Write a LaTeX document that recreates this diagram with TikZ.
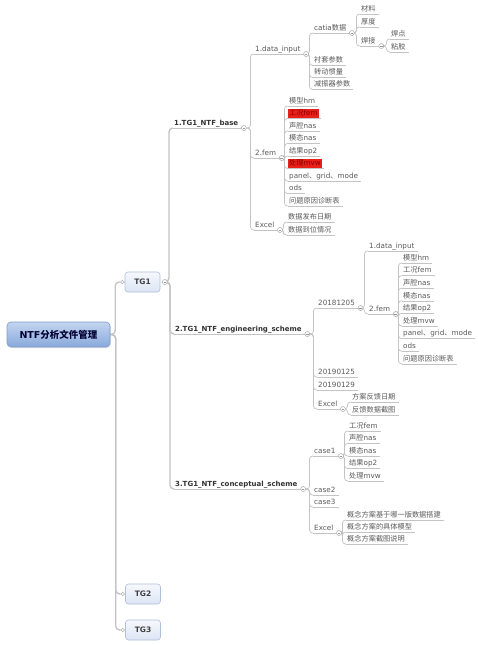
\documentclass[tikz,border=0pt]{standalone}
\usepackage{fontspec}
\setmainfont{DejaVu Sans}
\newfontfamily\zhfont{Noto Sans CJK SC}
\newcommand\zh[1]{{\zhfont #1}}
\usetikzlibrary{backgrounds,shadows}
\definecolor{lnc}{HTML}{C4C4C4}
\definecolor{txc}{HTML}{5A5A5A}
\definecolor{rootb}{HTML}{7E9CCB}
\definecolor{roott}{HTML}{C3D5F0}
\definecolor{rootbot}{HTML}{89A9DA}
\definecolor{tgb}{HTML}{AFC0DA}
\definecolor{tgt}{HTML}{F6F8FD}
\definecolor{tgbot}{HTML}{DCE5F4}
\definecolor{redf}{HTML}{E8201A}
\tikzset{
  txt/.style={font=\fontsize{7.2}{8}\selectfont, text=txc, inner xsep=1pt, inner ysep=1.2pt, anchor=south west, text height=5.2pt, text depth=1.4pt},
  ul/.style={draw=lnc, line width=0.6pt},
  leaf/.style={txt, append after command={(\tikzlastnode.south west) edge[ul] ([xshift=2pt]\tikzlastnode.south east)}},
  hot/.style={leaf, fill=redf, text=red!55!black},
  sub/.style={leaf, font=\bfseries\fontsize{7}{8}\selectfont, text=black!80},
  col/.style={circle, draw=gray!70, fill=white, minimum size=5pt, inner sep=0pt, line width=0.5pt,
    path picture={\draw[gray!80, line width=0.5pt] ([xshift=-1.3pt]path picture bounding box.center) -- ([xshift=1.3pt]path picture bounding box.center);}},
  dot/.style={circle, draw=gray!60, fill=white, minimum size=3.5pt, inner sep=0pt, line width=0.5pt},
  cn/.style={draw=lnc, line width=0.7pt, rounded corners=3pt},
  cnb/.style={draw=lnc, line width=1.4pt, rounded corners=4pt},
  root/.style={rounded corners=4pt, draw=rootb, line width=0.6pt, top color=roott, bottom color=rootbot,
    minimum width=103pt, minimum height=25pt, inner sep=2pt, font=\bfseries\fontsize{9.5}{11}\selectfont,
    text=black!80!blue, drop shadow={opacity=0.2,shadow xshift=1pt,shadow yshift=-1.2pt}},
  tg/.style={rounded corners=3pt, draw=tgb, line width=0.6pt, top color=tgt, bottom color=tgbot,
    minimum width=35pt, minimum height=20pt, inner sep=1pt, font=\bfseries\fontsize{7.5}{9}\selectfont, text=black!75}
}
\newcommand\lnk[2]{\draw[cn] (#1.east) -| ([xshift=-3.5pt]#2.south west) -- (#2.south west);}
\begin{document}
\begin{tikzpicture}[x=1pt,y=-1pt]
\useasboundingbox (0,0) rectangle (477,645);
% root and TG boxes
\node[root] (root) at (58.5,334.5) {NTF\zh{分析文件管理}};
\node[tg] (tg1) at (142.5,282) {TG1};
\node[tg] (tg2) at (143,594) {TG2};
\node[tg] (tg3) at (143,630) {TG3};
\node[dot] (p1) at ([xshift=-2.5pt]tg1.west) {};
\node[dot] (p2) at ([xshift=-2.5pt]tg2.west) {};
\node[dot] (p3) at ([xshift=-2.5pt]tg3.west) {};
\node[col] (ctg1) at ([xshift=4.5pt]tg1.east) {};
% level 2
\node[sub] (b1) at (173,128) {1.TG1\_NTF\_base};
\node[col] (cb1) at ([xshift=4.5pt]b1.south east) {};
\node[sub] (b2) at (174,334) {2.TG1\_NTF\_engineering\_scheme};
\node[col] (cb2) at ([xshift=4.5pt]b2.south east) {};
\node[sub] (b3) at (174,489) {3.TG1\_NTF\_conceptual\_scheme};
\node[col] (cb3) at ([xshift=4.5pt]b3.south east) {};
% b1 subtree
\node[leaf] (di1) at (254,54) {1.data\_input};
\node[col] (cdi1) at ([xshift=4.5pt]di1.south east) {};
\node[leaf] (cat) at (313,33) {catia\zh{数据}};
\node[col] (ccat) at ([xshift=4.5pt]cat.south east) {};
\node[leaf] (cl) at (360,14) {\zh{材料}};
\node[leaf] (hd) at (360,27) {\zh{厚度}};
\node[leaf] (hj) at (360,46) {\zh{焊接}};
\node[col] (chj) at ([xshift=4.5pt]hj.south east) {};
\node[leaf] (hdian) at (390,39) {\zh{焊点}};
\node[leaf] (zj) at (390,52) {\zh{粘胶}};
\node[leaf] (ct) at (313,65.5) {\zh{衬套参数}};
\node[leaf] (zd) at (313,77.5) {\zh{转动惯量}};
\node[leaf] (jz) at (313,89.5) {\zh{减振器参数}};
\node[leaf] (fm1) at (254,158) {2.fem};
\node[col] (cfm1) at ([xshift=4.5pt]fm1.south east) {};
\node[leaf] (fa1) at (288,106) {\zh{模型}hm};
\node[hot]  (fa2) at (288,118.5) {\zh{工况}fem};
\node[leaf] (fa3) at (288,131) {\zh{声腔}nas};
\node[leaf] (fa4) at (288,143.5) {\zh{模态}nas};
\node[leaf] (fa5) at (288,156) {\zh{结果}op2};
\node[hot]  (fa6) at (288,168.5) {\zh{处理}mvw};
\node[leaf] (fa7) at (288,181) {panel\zh{、}grid\zh{、}mode};
\node[leaf] (fa8) at (288,193.5) {ods};
\node[leaf] (fa9) at (288,206) {\zh{问题原因诊断表}};
\node[leaf] (xl1) at (254,230) {Excel};
\node[col] (cxl1) at ([xshift=4.5pt]xl1.south east) {};
\node[leaf] (xa1) at (287,222) {\zh{数据发布日期}};
\node[leaf] (xa2) at (287,235) {\zh{数据到位情况}};
% b2 subtree
\node[leaf] (dt1) at (317,308) {20181205};
\node[col] (cdt1) at ([xshift=4.5pt]dt1.south east) {};
\node[leaf] (di2) at (368,251) {1.data\_input};
\node[leaf] (fm2) at (368,314) {2.fem};
\node[col] (cfm2) at ([xshift=4.5pt]fm2.south east) {};
\node[leaf] (fb1) at (402,263) {\zh{模型}hm};
\node[leaf] (fb2) at (402,275.6) {\zh{工况}fem};
\node[leaf] (fb3) at (402,288.2) {\zh{声腔}nas};
\node[leaf] (fb4) at (402,300.8) {\zh{模态}nas};
\node[leaf] (fb5) at (402,313.4) {\zh{结果}op2};
\node[leaf] (fb6) at (402,326) {\zh{处理}mvw};
\node[leaf] (fb7) at (402,338.6) {panel\zh{、}grid\zh{、}mode};
\node[leaf] (fb8) at (402,351.2) {ods};
\node[leaf] (fb9) at (402,363.8) {\zh{问题原因诊断表}};
\node[leaf] (dt2) at (317,377) {20190125};
\node[leaf] (dt3) at (317,390) {20190129};
\node[leaf] (xl2) at (317,409) {Excel};
\node[col] (cxl2) at ([xshift=4.5pt]xl2.south east) {};
\node[leaf] (xb1) at (351,402) {\zh{方案反馈日期}};
\node[leaf] (xb2) at (351,415) {\zh{反馈数据截图}};
% b3 subtree
\node[leaf] (cs1) at (313,456) {case1};
\node[col] (ccs1) at ([xshift=4.5pt]cs1.south east) {};
\node[leaf] (fc1) at (348,431) {\zh{工况}fem};
\node[leaf] (fc2) at (348,443.5) {\zh{声腔}nas};
\node[leaf] (fc3) at (348,456) {\zh{模态}nas};
\node[leaf] (fc4) at (348,468.5) {\zh{结果}op2};
\node[leaf] (fc5) at (348,481) {\zh{处理}mvw};
\node[leaf] (cs2) at (313,495) {case2};
\node[leaf] (cs3) at (313,507) {case3};
\node[leaf] (xl3) at (313,533) {Excel};
\node[col] (cxl3) at ([xshift=4.5pt]xl3.south east) {};
\node[leaf] (xc1) at (346,520) {\zh{概念方案基于哪一版数据搭建}};
\node[leaf] (xc2) at (346,532) {\zh{概念方案的具体模型}};
\node[leaf] (xc3) at (346,544) {\zh{概念方案截图说明}};
% connectors
\begin{scope}[on background layer]
\fill[white] (0,0) rectangle (477,645);
\foreach \t in {p1,p2,p3} {\draw[cnb] (root.east) -| ([xshift=-5pt]\t.west) -- (\t.west);}
\draw[cn] (p1.east) -- (tg1.west);
\draw[cn] (p2.east) -- (tg2.west);
\draw[cn] (p3.east) -- (tg3.west);
\foreach \t in {b1,b2,b3} {\draw[cnb] (ctg1.east) -| ([xshift=-4pt]\t.south west) -- (\t.south west);}
\foreach \t in {di1,fm1,xl1} {\lnk{cb1}{\t}}
\foreach \t in {cat,ct,zd,jz} {\lnk{cdi1}{\t}}
\foreach \t in {cl,hd,hj} {\lnk{ccat}{\t}}
\foreach \t in {hdian,zj} {\lnk{chj}{\t}}
\foreach \i in {1,...,9} {\lnk{cfm1}{fa\i}}
\foreach \t in {xa1,xa2} {\lnk{cxl1}{\t}}
\foreach \t in {dt1,dt2,dt3,xl2} {\lnk{cb2}{\t}}
\foreach \t in {di2,fm2} {\lnk{cdt1}{\t}}
\foreach \i in {1,...,9} {\lnk{cfm2}{fb\i}}
\foreach \t in {xb1,xb2} {\lnk{cxl2}{\t}}
\foreach \t in {cs1,cs2,cs3,xl3} {\lnk{cb3}{\t}}
\foreach \i in {1,...,5} {\lnk{ccs1}{fc\i}}
\foreach \t in {xc1,xc2,xc3} {\lnk{cxl3}{\t}}
\end{scope}
\end{tikzpicture}
\end{document}
